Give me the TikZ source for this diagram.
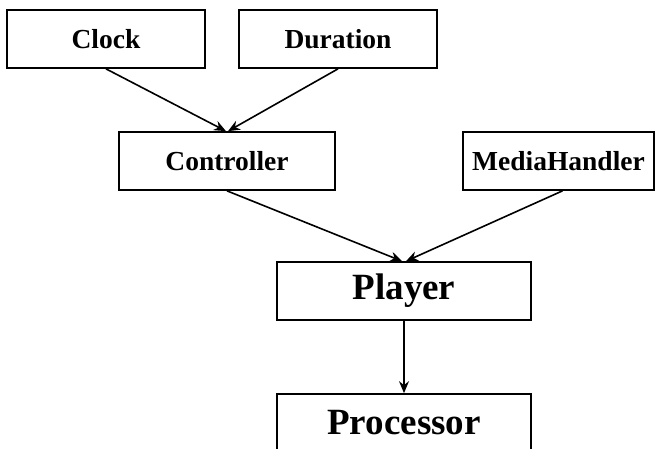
\documentclass[tikz,border=0pt]{standalone}
\usepackage{fontspec}
\setmainfont{Liberation Serif}
\usetikzlibrary{arrows.meta}
\begin{document}
\begin{tikzpicture}[x=1pt,y=-1pt,
  box/.style={draw,line width=1.7pt,rectangle,inner sep=0pt},
  smallbox/.style={box,font=\fontsize{27.5}{30}\selectfont\bfseries},
  bigbox/.style={box,font=\fontsize{37}{40}\selectfont\bfseries},
  link/.style={line width=1.6pt,-{Stealth[length=12pt,width=10pt,inset=4pt]}}]
\useasboundingbox (0,0) rectangle (655,448);
% top row
\node[smallbox,minimum width=198pt,minimum height=58pt] (clock) at (106,39) {Clock};
\node[smallbox,minimum width=198pt,minimum height=58pt] (dur) at (338,39) {Duration};
% middle row
\node[smallbox,minimum width=216pt,minimum height=58pt] (ctrl) at (227,161) {Controller};
\node[smallbox,minimum width=191pt,minimum height=58pt] (media) at (558.5,161) {MediaHandler};
% lower boxes
\node[bigbox,minimum width=254pt,minimum height=58pt] (player) at (404,291) {Player};
\node[bigbox,minimum width=254pt,minimum height=58pt] (proc) at (404,423) {Processor};
% connectors
\draw[link] (clock.south) -- ([xshift=-1pt]ctrl.north);
\draw[link] (dur.south) -- ([xshift=1pt]ctrl.north);
\draw[link] (ctrl.south) -- ([xshift=-2pt]player.north);
\draw[link] ([xshift=4pt]media.south) -- ([xshift=2pt]player.north);
\draw[link] (player.south) -- (proc.north);
\end{tikzpicture}
\end{document}
